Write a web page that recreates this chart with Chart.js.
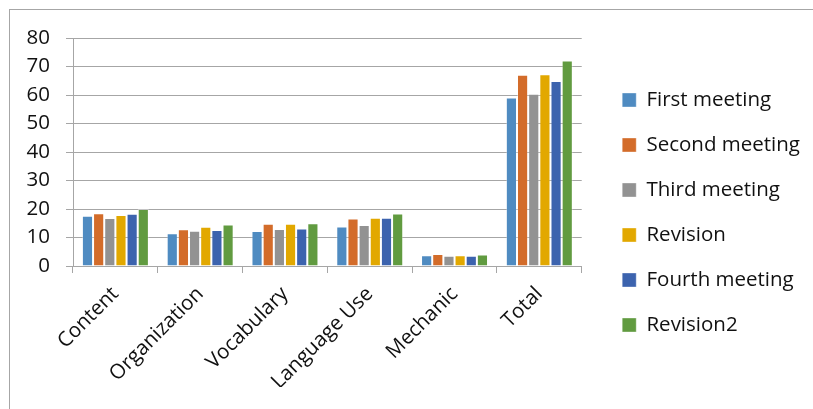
<!DOCTYPE html>
<html>
<head>
<meta charset="utf-8">
<script src="https://cdn.jsdelivr.net/npm/chart.js@4"></script>
<style>
  html, body { margin: 0; padding: 0; background: #fff; overflow: hidden; }
  #wrap { position: relative; width: 813px; height: 409px; overflow: hidden; }
  #frame { position: absolute; left: 9px; top: 9px; width: 900px; height: 500px; border: 1px solid #a6a6a6; box-sizing: border-box; }
  #c { position: absolute; left: 0; top: 0; }
</style>
</head>
<body>
<div id="wrap">
  <div id="frame"></div>
  <canvas id="c" width="813" height="409"></canvas>
</div>
<script>
const categories = ["Content", "Organization", "Vocabulary", "Language Use", "Mechanic", "Total"];
const seriesNames = ["First meeting", "Second meeting", "Third meeting", "Revision", "Fourth meeting", "Revision2"];
const firstMeeting  = [17.6, 11.5, 12.3, 13.9, 3.8, 59.1];
const secondMeeting = [18.5, 12.9, 14.8, 16.7, 4.2, 67.1];
const thirdMeeting  = [16.8, 12.4, 13.0, 14.4, 3.6, 60.4];
const revision      = [17.9, 13.8, 14.8, 16.9, 3.8, 67.3];
const fourthMeeting = [18.3, 12.6, 13.2, 16.9, 3.6, 64.9];
const revision2     = [20.0, 14.6, 15.0, 18.4, 4.0, 72.1];
const yTicks = [0, 10, 20, 30, 40, 50, 60, 70, 80];

const seriesValues = [firstMeeting, secondMeeting, thirdMeeting, revision, fourthMeeting, revision2];
const colors = ["#4f8bc1", "#d36c2a", "#929292", "#e2a800", "#3c63ae", "#619b40"];

const FONT = { family: "'Open Sans', sans-serif", size: 20.5 };

new Chart(document.getElementById('c'), {
  type: 'bar',
  data: {
    labels: categories,
    datasets: seriesNames.map((name, i) => ({
      label: name,
      data: seriesValues[i],
      backgroundColor: colors[i],
      borderColor: 'rgba(255,255,255,0.35)',
      borderWidth: 1,
      barPercentage: 1.0,
      categoryPercentage: 0.79,
      yAxisID: 'y'
    }))
  },
  options: {
    responsive: false,
    animation: false,
    devicePixelRatio: 1,
    layout: { padding: { top: 38, bottom: 22, left: 0, right: 3 } },
    plugins: {
      tooltip: { enabled: false },
      legend: {
        position: 'right',
        align: 'center',
        maxWidth: 260,
        labels: {
          font: FONT,
          color: '#111',
          boxWidth: 14,
          boxHeight: 14,
          padding: 24.5
        }
      }
    },
    scales: {
      x: {
        grid: { display: true, drawOnChartArea: false, drawTicks: true, tickLength: 7, color: '#a6a6a6', offset: true },
        border: { display: true, color: '#a6a6a6' },
        ticks: { font: FONT, color: '#111', minRotation: 45, maxRotation: 45, autoSkip: false, padding: 9 },
        afterFit: s => { s.height = 121; }
      },
      y: {
        min: 0, max: 80,
        afterBuildTicks: s => { s.ticks = yTicks.map(v => ({ value: v })); },
        grid: { color: '#a6a6a6', lineWidth: 1, tickLength: 7 },
        border: { display: true, color: '#a6a6a6' },
        ticks: { font: FONT, color: '#111', padding: 16 },
        afterFit: s => { s.width = 73; }
      },
      y2: {
        type: 'linear',
        position: 'right',
        display: true,
        grid: { display: false, drawTicks: false },
        border: { display: false },
        ticks: { display: false },
        afterFit: s => { s.width = 16; }
      }
    }
  }
});
</script>
</body>
</html>
